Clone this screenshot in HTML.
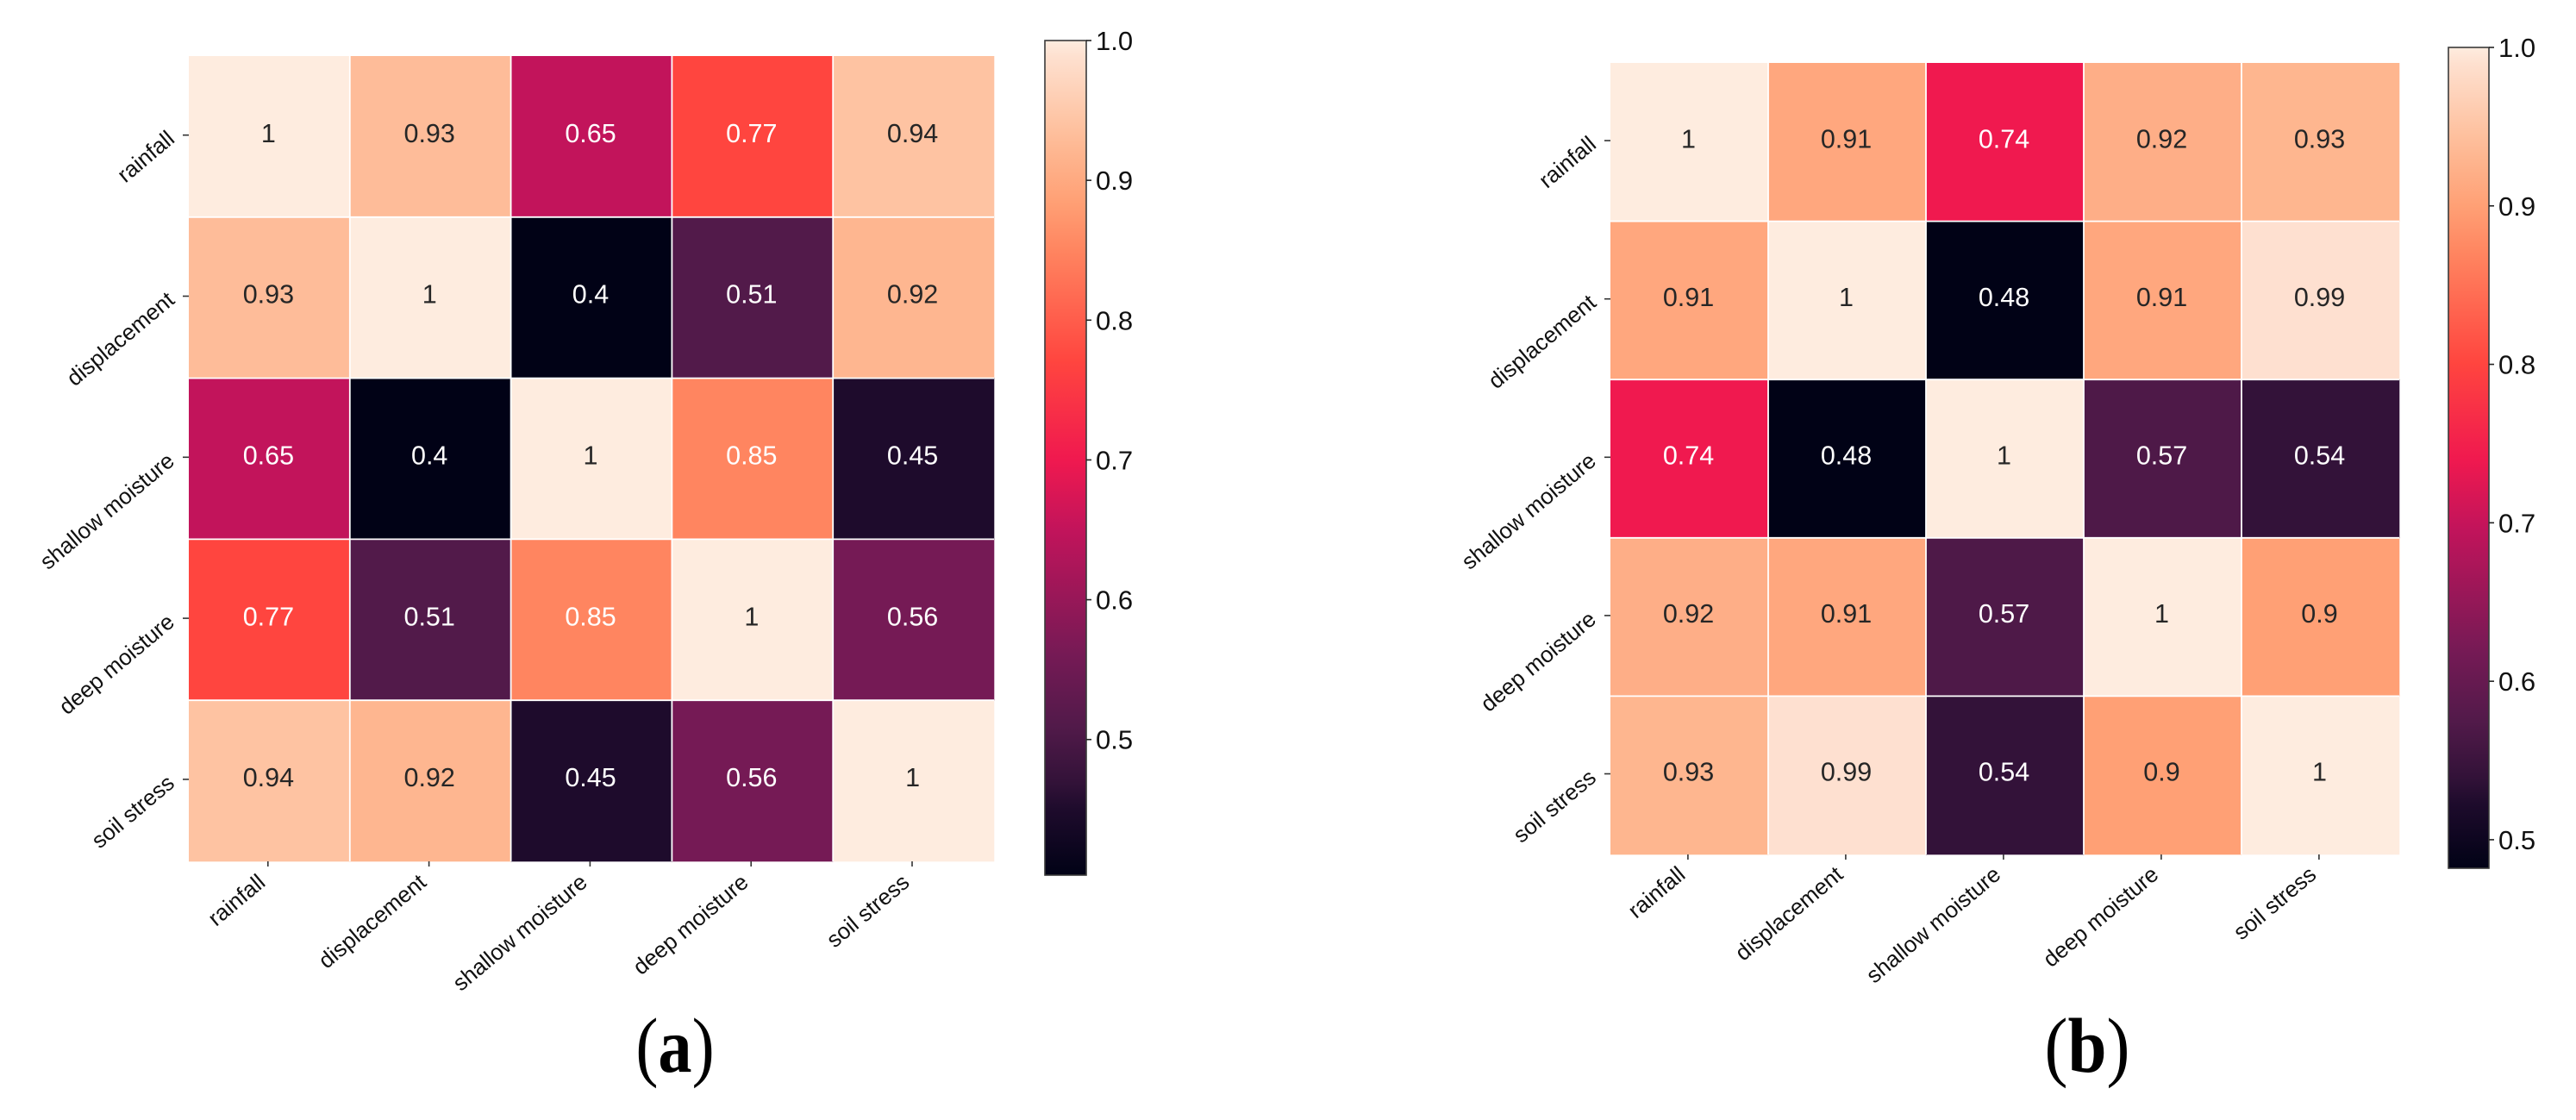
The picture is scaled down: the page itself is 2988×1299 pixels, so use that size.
<!DOCTYPE html>
<html lang="en">
<head>
<meta charset="utf-8">
<title>Correlation heatmaps</title>
<style>
html,body{margin:0;padding:0;background:#fff;width:2988px;height:1299px;overflow:hidden}
svg{display:block}
text{font-family:"Liberation Sans",Arial,sans-serif}
.panel-label{font-family:"Liberation Serif","Times New Roman",serif;font-size:90px;fill:#000}
</style>
</head>
<body>
<svg id="chart" xmlns="http://www.w3.org/2000/svg" width="2988" height="1299" viewBox="0 0 2988 1299">
  <defs id="defs"></defs>
  <rect x="0" y="0" width="2988" height="1299" fill="#ffffff"/>
  <g id="panel-a"></g>
  <g id="panel-b"></g>
  <text class="panel-label" transform="translate(783 1243) scale(0.87 1)" text-anchor="middle">(<tspan font-weight="bold">a</tspan>)</text>
  <text class="panel-label" transform="translate(2421 1243) scale(0.9 1)" text-anchor="middle">(<tspan font-weight="bold">b</tspan>)</text>
</svg>
<script>
const categories = ["rainfall", "displacement", "shallow moisture", "deep moisture", "soil stress"];
const valuesA = [
  [1, 0.93, 0.65, 0.77, 0.94],
  [0.93, 1, 0.4, 0.51, 0.92],
  [0.65, 0.4, 1, 0.85, 0.45],
  [0.77, 0.51, 0.85, 1, 0.56],
  [0.94, 0.92, 0.45, 0.56, 1]
];
const valuesB = [
  [1, 0.91, 0.74, 0.92, 0.93],
  [0.91, 1, 0.48, 0.91, 0.99],
  [0.74, 0.48, 1, 0.57, 0.54],
  [0.92, 0.91, 0.57, 1, 0.9],
  [0.93, 0.99, 0.54, 0.9, 1]
];
const colorbarTicksA = [1.0, 0.9, 0.8, 0.7, 0.6, 0.5];
const colorbarTicksB = [1.0, 0.9, 0.8, 0.7, 0.6, 0.5];
const rangeA = [0.403, 1];
const rangeB = [0.482, 1];

const rocketStops = [
  [0, "#010216"], [0.079, "#1e0b2c"], [0.11, "#321238"], [0.179, "#521a4a"],
  [0.263, "#751a55"], [0.414, "#c2145b"], [0.498, "#f0194f"], [0.615, "#ff453f"],
  [0.749, "#ff8560"], [0.807, "#ffa075"], [0.866, "#feb690"], [0.9, "#fec3a2"],
  [0.98, "#fee0cf"], [1, "#feecdf"]
];

const NS = "http://www.w3.org/2000/svg";
function make(tag, parent, attrs, txt) {
  const el = document.createElementNS(NS, tag);
  for (const k in attrs) el.setAttribute(k, attrs[k]);
  if (txt !== undefined) el.textContent = txt;
  parent.appendChild(el);
  return el;
}
function hexToRgb(h) {
  return [1, 3, 5].map(i => parseInt(h.slice(i, i + 2), 16));
}
function colorAt(t) {
  t = Math.max(0, Math.min(1, t));
  for (let i = 1; i < rocketStops.length; i++) {
    if (t <= rocketStops[i][0]) {
      const a = rocketStops[i - 1], b = rocketStops[i];
      const f = (t - a[0]) / (b[0] - a[0]);
      const ca = hexToRgb(a[1]), cb = hexToRgb(b[1]);
      return "rgb(" + ca.map((c, j) => Math.round(c + (cb[j] - c) * f)).join(",") + ")";
    }
  }
  return rocketStops[rocketStops.length - 1][1];
}

function drawPanel(cfg) {
  const g = document.getElementById(cfg.id);
  const n = categories.length;
  const cw = cfg.w / n, ch = cfg.h / n;
  const xBand = i => cfg.x + i * cw;
  const yBand = i => cfg.y + i * ch;
  const norm = v => (v - cfg.range[0]) / (cfg.range[1] - cfg.range[0]);

  cfg.values.forEach((row, r) => {
    row.forEach((v, c) => {
      const cell = make("rect", g, { x: xBand(c), y: yBand(r), width: cw + 0.3, height: ch + 0.3, fill: colorAt(norm(v)) });
      
      
    });
  });
  for (let i = 1; i < n; i++) {
    const vl = make("line", g, { x1: xBand(i), x2: xBand(i), y1: cfg.y, y2: cfg.y + cfg.h, stroke: "#fff", "stroke-width": 1.8 });
    
    
    const hl = make("line", g, { x1: cfg.x, x2: cfg.x + cfg.w, y1: yBand(i), y2: yBand(i), stroke: "#fff", "stroke-width": 1.8 });
    
    
  }
  cfg.values.forEach((row, r) => {
    row.forEach((v, c) => {
      const label = make("text", g, {
        x: xBand(c) + cw / 2 - 1, y: yBand(r) + ch / 2 + 6.5,
        "text-anchor": "middle", "font-size": 30.5,
        fill: norm(v) < 0.78 ? "#ffffff" : "#262626"
      }, String(v));
      
      
    });
  });

  categories.forEach((name, i) => {
    const tx = xBand(i) + cw / 2 - 1.6;
    const ty = yBand(i) + ch / 2 - 1.7;
    const xt = make("line", g, { x1: tx, x2: tx, y1: cfg.y + cfg.h, y2: cfg.y + cfg.h + 6, stroke: "#333", "stroke-width": 1.6 });
    
    
    const yt = make("line", g, { x1: cfg.x - 7, x2: cfg.x, y1: ty, y2: ty, stroke: "#333", "stroke-width": 1.6 });
    
    
    const lx = tx - 1.5, ly = cfg.y + cfg.h + cfg.xLabelDy;
    const xl = make("text", g, { x: lx, y: ly, "text-anchor": "end", "font-size": 26, fill: "#111", transform: "rotate(-40 " + lx + " " + ly + ")" }, name);
    
    
    const yx = cfg.x - 15, yy = ty + 7;
    const yl = make("text", g, { x: yx, y: yy, "text-anchor": "end", "font-size": 26, fill: "#111", transform: "rotate(-40 " + yx + " " + yy + ")" }, name);
    
    
  });

  // colorbar
  const cb = cfg.cb;
  const defs = document.getElementById("defs");
  const grad = make("linearGradient", defs, { id: cfg.id + "-grad", x1: 0, y1: 1, x2: 0, y2: 0 });
  rocketStops.forEach(s => make("stop", grad, { offset: s[0], "stop-color": s[1] }));
  const bar = make("rect", g, { x: cb.x, y: cb.y, width: cb.w, height: cb.h, fill: "url(#" + cfg.id + "-grad)" });
  
  
  const frame = make("rect", g, { x: cb.x, y: cb.y, width: cb.w, height: cb.h, fill: "none", stroke: "#3a3a3a", "stroke-width": 1.6 });
  
  
  const cbY = v => cb.y + (1 - norm(v)) * cb.h;
  cfg.ticks.forEach(v => {
    const y = cbY(v);
    const t = make("line", g, { x1: cb.x + cb.w, x2: cb.x + cb.w + 6, y1: y, y2: y, stroke: "#222", "stroke-width": 1.6 });
    
    
    const l = make("text", g, { x: cb.x + cb.w + 11, y: y + 11, "font-size": 31, fill: "#111" }, v.toFixed(1));
    
    
  });
}

drawPanel({ id: "panel-a", x: 219, y: 65, w: 934, h: 934, values: valuesA, range: rangeA, ticks: colorbarTicksA, xLabelDy: 27,
  cb: { x: 1212, y: 47, w: 48, h: 968 } });
drawPanel({ id: "panel-b", x: 1868, y: 73, w: 915, h: 918, values: valuesB, range: rangeB, ticks: colorbarTicksB, xLabelDy: 26,
  cb: { x: 2840, y: 55, w: 47, h: 952 } });
</script>
</body>
</html>
